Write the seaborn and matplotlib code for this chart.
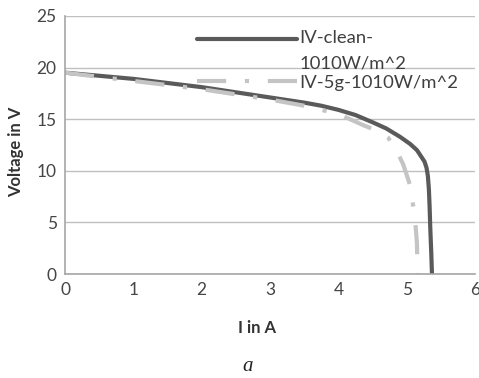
import pandas as pd
import matplotlib
matplotlib.use('Agg')
import matplotlib.pyplot as plt
import seaborn as sns

# curba panou curat
curent_curat = [0.0, 0.5, 1.0, 1.5, 2.0, 2.5, 3.0, 3.5, 3.75, 4.0, 4.25, 4.5, 4.7, 4.9, 5.05, 5.15, 5.22, 5.26, 5.29, 5.31, 5.325, 5.335, 5.345, 5.36, 5.37]
tensiune_curat = [19.5, 19.2, 18.9, 18.5, 18.1, 17.6, 17.1, 16.6, 16.3, 15.9, 15.4, 14.7, 14.1, 13.3, 12.6, 12.0, 11.3, 10.9, 10.3, 9.5, 8.2, 6.6, 4.5, 2.0, 0.0]

# curba panou murdar (5g)
curent_5g = [0.0, 0.5, 1.0, 1.5, 2.0, 2.5, 3.0, 3.5, 4.0, 4.37, 4.6, 4.73, 4.85, 4.95, 5.05, 5.12, 5.15, 5.16]
tensiune_5g = [19.5, 19.1, 18.7, 18.3, 17.9, 17.4, 16.9, 16.3, 15.5, 14.4, 13.8, 13.2, 12.0, 10.6, 8.6, 5.5, 3.0, 0.0]

etichete = ['IV-clean-\n1010W/m^2', 'IV-5g-1010W/m^2']

df = pd.concat([
    pd.DataFrame({'I': curent_curat, 'V': tensiune_curat, 'serie': etichete[0]}),
    pd.DataFrame({'I': curent_5g, 'V': tensiune_5g, 'serie': etichete[1]}),
])

sns.set_style('white')
plt.rcParams['font.family'] = ['Lato', 'DejaVu Sans']

fig = plt.figure(figsize=(4.79, 3.78), dpi=100)
ax = fig.add_axes([0.1357, 0.275, 0.856, 0.683])

ax.grid(axis='y', color='#c0c0c0', linewidth=1)
ax.set_axisbelow(True)

sns.lineplot(data=df, x='I', y='V', hue='serie', style='serie',
             palette={etichete[0]: '#5a5a5a', etichete[1]: '#c4c4c4'},
             dashes={etichete[0]: '', etichete[1]: (7, 4.5, 1, 4.5)},
             sort=False, linewidth=3, ax=ax)

ax.set_xlim(0, 6)
ax.set_ylim(0, 25)
ax.set_xticks(range(0, 7))
ax.set_yticks(range(0, 26, 5))
ax.tick_params(labelsize=12.5, colors='#454545', length=0, pad=6)
for s in ['top', 'right']:
    ax.spines[s].set_visible(False)
for s in ['left', 'bottom']:
    ax.spines[s].set_color('#a6a6a6')
    ax.spines[s].set_linewidth(1.2)

ax.set_xlabel('I in A', fontsize=12, fontweight='bold', color='#333333')
ax.set_ylabel('Voltage in V', fontsize=12, fontweight='bold', color='#333333')
ax.xaxis.set_label_coords(0.468, -0.178)
ax.yaxis.set_label_coords(-0.1, 0.473)

leg = ax.legend(loc='upper right', bbox_to_anchor=(1.0, 1.01), frameon=False, fontsize=13.3,
                handlelength=5.4, handletextpad=0.15, labelspacing=0.2)
for t in leg.get_texts():
    t.set_color('#404040')
    t.set_linespacing(1.7)
# linia primei serii aliniata cu primul rand al etichetei
linie = leg.get_lines()[0]
linie.set_ydata([y + 8.6 for y in linie.get_ydata()])

fig.text(0.505, 0.018, 'a', fontsize=15, style='italic', family='Liberation Serif', color='#222222')

fig.savefig('out.png', dpi=100)
